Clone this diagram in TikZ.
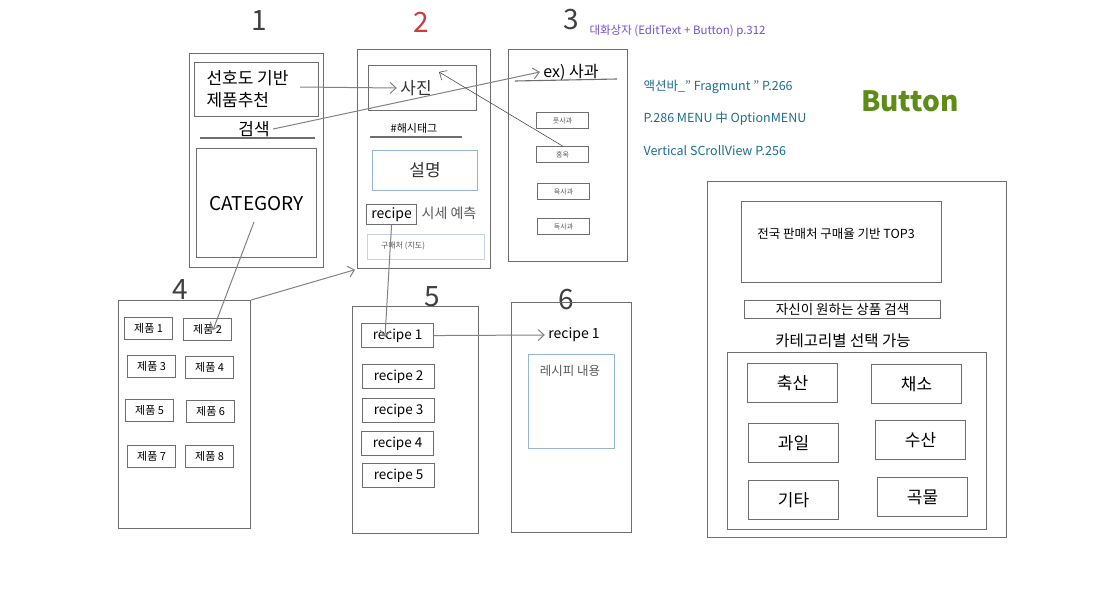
\documentclass[tikz,border=0pt]{standalone}
\usepackage{fontspec}
\setmainfont{Noto Sans CJK KR}
\usetikzlibrary{arrows.meta}
\definecolor{boxgray}{RGB}{110,110,110}
\definecolor{boxblue}{RGB}{150,180,215}
\definecolor{lightbox}{RGB}{200,210,225}
\definecolor{conngray}{RGB}{130,130,130}
\definecolor{numred}{RGB}{200,60,60}
\definecolor{dlgpurple}{RGB}{115,80,210}
\definecolor{noteteal}{RGB}{30,110,140}
\definecolor{btngreen}{RGB}{95,140,25}
\definecolor{softtext}{RGB}{90,90,90}
\begin{document}
\begin{tikzpicture}[x=1pt,y=-1pt,
  box/.style={draw=boxgray, line width=1.1pt, inner sep=0pt, anchor=north west},
  bluebox/.style={box, draw=boxblue},
  fs/.style={font=\fontsize{#1}{#1}\selectfont},
  conn/.style={draw=conngray, line width=1pt, -{Straight Barb[length=6pt,width=11pt]}},
  thinconn/.style={draw=black!70, line width=0.6pt, -{Straight Barb[length=6pt,width=11pt]}},
  num/.style={font=\fontsize{28}{28}\selectfont, text=black!75},
  sbtn/.style={box, minimum width=52, minimum height=16, fs=7, text=softtext},
  pbtn/.style={box, minimum width=48, minimum height=22, fs=11},
  rbtn/.style={box, minimum width=72, minimum height=24, fs=13.5},
  cbtn/.style={box, minimum width=90, minimum height=39, fs=17},
]
\useasboundingbox[fill=white] (0,0) rectangle (1096,595);

% headings
\node[num] (n1) at (259,21) {1};
\node[num, text=numred] (n2) at (421,22) {2};
\node[num] (n3) at (571,20) {3};
\node[num] (n4) at (180,290) {4};
\node[num] (n5) at (432,297) {5};
\node[num] (n6) at (566,300) {6};

% notes
\node[anchor=west, fs=11.5, text=dlgpurple] (dlg) at (586,31) {대화상자 (EditText + Button) p.312};
\node[anchor=west, fs=12.5, text=noteteal] (note1) at (640,87) {액션바\_" Fragmunt " P.266};
\node[anchor=west, fs=12.5, text=noteteal] (note2) at (640,119) {P.286 MENU 中 OptionMENU};
\node[anchor=west, fs=12.5, text=noteteal] (note3) at (640,151) {Vertical SCrollView P.256};
\node[text=btngreen, font=\fontsize{28}{28}\selectfont\bfseries] (btnlbl) at (910,101) {Button};

% screen 1
\node[box, minimum width=134, minimum height=214] (s1) at (189,53) {};
\node[box, minimum width=124, minimum height=54] (pref) at (194,62) {};
\node[anchor=west, fs=17] (pref1) at (203,78) {선호도 기반};
\node[anchor=west, fs=17] (pref2) at (203,100) {제품추천};
\node[fs=17] (search) at (254,129) {검색};
\draw[boxgray, line width=1.1pt] (200,138) -- (315,138);
\node[box, minimum width=120, minimum height=109, fs=19] (cat) at (196,148) {CATEGORY};

% screen 2
\node[box, minimum width=133, minimum height=219] (s2) at (357,49) {};
\node[box, minimum width=108, minimum height=45] (photo) at (368,65) {};
\node[fs=17, text=black!80] (phototxt) at (416,88) {사진};
\node[fs=11] (hash) at (414,128) {\#해시태그};
\draw[boxgray, line width=1.1pt] (370,137) -- (462,137);
\node[bluebox, minimum width=105, minimum height=40, fs=17, text=black!80] (desc) at (372,150) {설명};
\node[box, minimum width=50, minimum height=20, fs=14] (recipebtn) at (366,204) {recipe};
\node[fs=14, text=softtext] (price) at (449,213) {시세 예측};
\node[box, draw=lightbox, minimum width=117, minimum height=25] (buy) at (367,234) {};
\node[fs=8, text=softtext] (buytxt) at (403,246) {구매처 (지도)};

% screen 3
\node[box, minimum width=119, minimum height=212] (s3) at (508,49) {};
\node[fs=16] (ex) at (571,72) {ex) 사과};
\draw[boxgray, line width=1.1pt] (515,81) -- (617,79);
\node[sbtn] (b1) at (536,112) {풋사과};
\node[sbtn] (b2) at (536,146) {홍옥};
\node[sbtn] (b3) at (537,183) {육사과};
\node[sbtn] (b4) at (537,218) {독사과};

% screen 4
\node[box, minimum width=132, minimum height=228] (s4) at (118,300) {};
\node[pbtn] (p1) at (124,317) {제품 1};
\node[pbtn] (p2) at (183,318) {제품 2};
\node[pbtn] (p3) at (127,355) {제품 3};
\node[pbtn] (p4) at (185,356) {제품 4};
\node[pbtn] (p5) at (125,399) {제품 5};
\node[pbtn] (p6) at (186,400) {제품 6};
\node[pbtn] (p7) at (127,445) {제품 7};
\node[pbtn] (p8) at (185,445) {제품 8};

% screen 5
\node[box, minimum width=126, minimum height=227] (s5) at (352,306) {};
\node[rbtn] (r1) at (361,323) {recipe 1};
\node[rbtn] (r2) at (362,364) {recipe 2};
\node[rbtn] (r3) at (362,398) {recipe 3};
\node[rbtn] (r4) at (361,431) {recipe 4};
\node[rbtn] (r5) at (362,463) {recipe 5};

% screen 6
\node[box, minimum width=120, minimum height=230] (s6) at (511,302) {};
\node[fs=14] (r6) at (574,335) {recipe 1};
\node[bluebox, minimum width=86, minimum height=94] (content) at (528,354) {};
\node[fs=12.5, text=softtext] (contenttxt) at (570,371) {레시피 내용};

% right panel
\node[box, minimum width=299, minimum height=356] (rp) at (707,181) {};
\node[box, minimum width=200, minimum height=81] (top3) at (741,201) {};
\node[fs=12.5] (top3txt) at (836,234) {전국 판매처 구매율 기반 TOP3};
\node[box, minimum width=196, minimum height=18, fs=13.5] (srch) at (744,300) {자신이 원하는 상품 검색};
\node[fs=15.5] (catlbl) at (843,341) {카테고리별 선택 가능};
\node[box, minimum width=259, minimum height=177] (catbox) at (727,352) {};
\node[cbtn] (c1) at (747,363) {축산};
\node[cbtn] (c2) at (871,364) {채소};
\node[cbtn] (c3) at (748,423) {과일};
\node[cbtn] (c4) at (875,420) {수산};
\node[cbtn] (c5) at (748,480) {기타};
\node[cbtn] (c6) at (877,477) {곡물};

% connectors
\coordinate (a1s) at (300,87);
\coordinate (a3e) at (439,72);
\coordinate (a4s) at (254,222);
\coordinate (a4e) at (213,330);
\coordinate (a6e) at (385,337);
\draw[conn] (a1s) -- (phototxt.west);
\draw[conn] (search.east) -- (ex.west);
\draw[thinconn] (b2.north) -- (a3e);
\draw[conn] (a4s) -- (a4e);
\draw[conn, shorten >=2pt] (s4.north east) -- (s2.south west);
\draw[conn] (recipebtn.south) -- (a6e);
\draw[conn] (r1.east) -- (r6.west);
\end{tikzpicture}
\end{document}
